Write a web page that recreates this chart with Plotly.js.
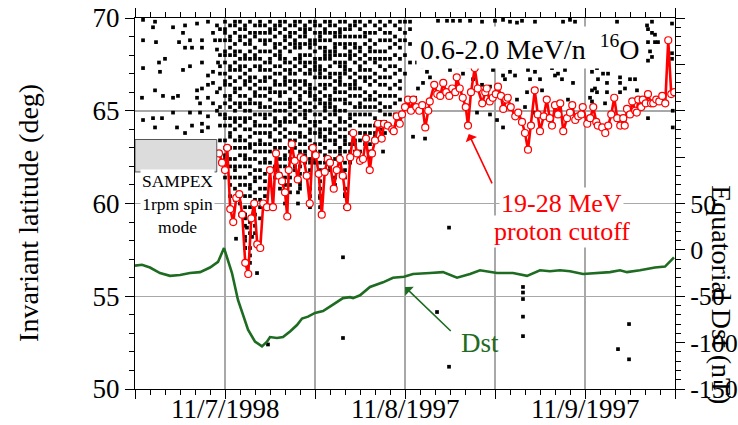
<!DOCTYPE html>
<html><head><meta charset="utf-8">
<script src="https://cdn.plot.ly/plotly-3.0.1.min.js"></script>
<style>html,body{margin:0;padding:0;background:#fff}#chart{width:738px;height:425px}</style>
</head><body><div id="chart"></div>
<script>
// ---- data (hours from 11/6 12:00 UT) ----
const xTickVals = [0, 12, 24, 36, 48, 60, 72];
const xLabelVals = [12, 36, 60];
const xLabelText = ['11/7/1998', '11/8/1997', '11/9/1997'];
const y2TickVals = [-150, -100, -50, 0, 50, 100, 150, 200, 250];
const y2TickText = ['-150', '-100', '-50', '0', '50', '', '', '', ''];

// 19-28 MeV proton cutoff (invariant latitude, deg)
const cutoffHour = [11.2,11.6,12.0,12.3,12.7,13.1,13.5,13.9,14.3,14.7,15.1,15.5,15.9,16.3,16.7,17.1,17.6,18.0,18.4,18.8,19.2,19.6,20.0,20.3,20.5,20.9,21.3,21.7,22.1,22.5,22.9,23.3,23.7,24.1,24.5,24.9,25.3,25.7,26.0,26.5,26.9,27.3,27.7,28.3,28.7,29.1,29.6,30.0,30.4,30.8,31.3,31.6,32.0,32.4,32.9,33.2,33.7,34.3,34.5,34.9,35.3,35.6,36.0,36.4,36.8,37.1,37.5,37.9,38.3,38.7,39.1,39.3,39.9,40.3,40.7,41.1,41.5,41.9,42.3,42.7,42.9,43.3,43.7,44.1,44.4,44.8,45.3,45.7,46.3,46.7,46.9,47.3,47.7,48.1,48.4,48.8,49.1,49.5,49.7,50.1,50.7,51.1,51.6,52.0,52.4,52.8,53.3,53.7,54.0,54.5,54.9,55.3,55.6,56.0,56.4,56.7,57.1,57.6,58.0,58.3,58.7,59.1,59.5,59.7,60.3,60.7,61.1,61.5,61.7,62.3,62.7,63.1,63.5,63.9,64.3,64.7,65.1,65.3,65.6,66.0,66.3,66.7,66.9,67.1,67.5,67.7,68.1,68.4,68.8,69.1,69.5,69.9,70.3,70.7,71.1,71.5,71.9];
const cutoffLat = [62.7,62.2,61.8,63.0,59.7,59.0,60.3,60.5,59.4,56.8,56.2,59.2,60.0,57.8,57.6,60.0,59.8,61.8,59.8,62.7,61.5,61.2,60.6,59.3,61.8,63.2,62.3,61.3,62.5,62.4,61.5,60.0,63.0,62.6,61.6,59.4,61.7,62.4,62.2,60.8,61.8,62.4,61.5,59.8,62.5,63.8,62.7,62.3,62.4,63.5,61.8,62.7,63.4,64.3,63.5,64.3,64.2,64.0,63.9,64.7,64.3,64.8,65.2,65.6,65.0,65.6,65.2,65.0,65.3,64.1,65.0,65.5,66.4,65.9,65.8,66.5,66.0,65.8,66.2,66.0,66.8,66.2,65.7,65.2,64.2,66.0,67.3,66.2,65.4,66.0,66.2,65.5,65.7,65.9,66.3,65.8,65.1,65.6,65.7,65.2,64.7,64.9,64.4,63.8,62.9,64.2,66.1,64.8,63.9,64.7,65.6,64.6,64.2,65.3,64.8,65.4,63.9,64.6,64.9,65.3,64.5,64.7,64.8,65.2,64.3,64.6,65.2,64.4,64.2,64.1,63.8,64.2,64.8,65.7,64.6,64.2,64.6,64.2,65.1,64.8,65.5,65.0,64.9,65.6,65.2,65.6,65.4,65.9,65.4,65.4,65.6,65.5,65.8,65.4,68.8,65.9,66.0];

// Equatorial Dst (nT)
const dstHour = [0,0.93,2,3.33,4.67,6,7.33,8.67,10,11.07,11.87,12.93,13.73,15.07,16,16.93,17.6,18,18.93,19.73,20.67,21.6,22.27,23.07,24,25.07,26.4,27.73,28.67,29.07,30,31.33,33.07,34.4,35.87,37.07,39.33,41.07,42.93,44.67,46,48.27,50.4,52.27,54,55.33,56.67,58,59.73,61.33,63.33,64.67,65.6,67.33,69.33,70.67,71.07,71.87];
const dstVal = [-17,-16,-19,-25,-28,-27,-25,-24,-19,-13,2,-25,-54,-86,-99,-104,-99,-94,-95,-94,-88,-81,-74,-72,-68,-66,-59,-52,-51,-52,-49,-40,-35,-30,-29,-26,-25,-24,-30,-26,-22,-25,-25,-28,-22,-23,-22,-23,-26,-25,-24,-22,-24,-22,-19,-18,-15,-8];

// 0.6-2.0 MeV/n 16O counts: dense columns, '#' = count in a 0.2-deg bin starting at 69.8 deg
const oxyColumnHour = [11.33,12.0,12.67,13.33,14.0,14.67,15.33,16.0,16.67,17.33,18.0,18.67,19.33,20.0,20.67,21.33,22.0,22.67,23.33,24.0,24.67,25.33,26.0,26.67,27.33,28.0,28.67,29.33,30.0,30.67,31.33,32.0,32.67,33.33,34.0,34.67,35.33,36.0,36.67];
const oxyColumnBins = [
"..#..#...#..#.#...#....#.#..#...#...#.",
"#.##.#..##.#..#.##..#.#..##.#...#.#.##..#.#",
".#..##.#.#..##.#.#..##.#..#.#.##..#..#.#..#.#..#",
"##.#..#.##.#.#..#.##..#.#.##.#..#.#..#.##.#..#..#.",
"#.#.##..#.#.##.#..#.#.##..#.#..##.#.#..#..#.#..#.#..#",
".##.#.#..##.#.#.##..#.#.#.##.#..#.#.##.#..#.#..#..#.##.#..#..#",
"#..#.##.#.#..#.##.#..##.#.#..#.#.##..#.#.#..##.#..#...#..#...#.#",
".#.##..#.##.#..#.#.##.#..#.##.#..#.#.#..#.##..#.#...#..#.#",
"##.#.#..#.#.##..#.#.#.##.#..#.#.##.#..#.#.#..#..#.#..#..",
".#.#.##.#..#.#.##.#.#..#.##.#.#..#.#.##..#.#.#.#",
"#.##.#..#.##.#.#..##.#.#.#..#.##.#.#..#.#..#.",
".##.#.##.#..#.#.##.#..#.#.##.#..#.#.#..##.#.",
"##.#..#.###.#.#..#.##.#.#..##.#.#.#..#.#.##..#",
"#.#.##.#..##.#.###.#..#.#.##.#.#..#.##.#..#.#.#..#",
".#.##.#.#..#.##.#.#..###.#.#..#.##.#.#..#.#.#.#.",
"##.#.###..#.#.#.##.#..#.#.##..#.#.#..#.##",
"#.#.#.##.###.#..#.#.##.#.#..#.##.#.##..#.#.###.",
".####.#..#.##.#.##.#..#.###.#..#.#.##.#..#.",
"#.#..###.#.#.##..####.#.#..#.##.#.#..##.#.#..#.#..#",
"##.#.##.#.####.#..#.##.#.#.##.#..#.#.##.",
".#.###.#..#.####.#.#.##..#.#.###.#.#..#.##.#.#.#..#",
"#.##.#.####..#.#.##.#.###.#..#.##.#.#.#.##.",
"##.#.#..###.#.##.#..####.#.#.##.#..#.#.##",
".#.##.####.#..#.#.##.#.###..#.#.##.#.#..#.#.#.",
"#.###.#..#.##.####.#.#..#.##.#.#..###.#.#.",
"#.#.#.##.#.####..#.#.##.#..#.#.###.#..#.#.#..#.#..#",
".##.#.#.###..#.#.##.#.#..##.#.#..#.#.##.",
"##..#.##.#.#..#.###.#..#.#.#..#.##.#.",
"#.#.#..##.#.##.#..#.#.##.#..#.#.#..#.#.",
".#.##.#..#.#.#.##..#.#.#.#..#.##.#",
"#..#.#.##.#..#.#.#..##.#.#..#.#..#.#.#..",
".#.#..#.#.##..#.#..#.#.#..#.#.##.",
"#.#..#..#.#.#..#.#..#.#.#..#.#.",
".#.#.#..#.#..#.#.#..#..#.#.#..#",
"#..#.#.#..#.#..#..#.#..#.#..#",
".#..#.#..#..#.#..#..#.#..#.",
"#.#..#.#..#..#..#.#..#..",
"#..#.#...#....#..",
"#.#...#....#"
];
// scattered 16O counts
const oxySparseHour = [1.07,2.67,2.4,5.07,6.67,6.4,8.27,9.73,1.07,2.8,5.87,4.0,3.2,1.07,3.33,0.93,2.67,3.73,5.07,5.73,1.07,2.4,3.6,5.07,2.67,5.6,6.67,6.4,7.33,8.93,6.67,7.6,8.93,8.93,7.33,8.27,8.93,8.27,8.67,7.33,8.67,9.73,7.6,8.93,9.73,9.73,9.73,10.4,10.4,10.93,10.4,10.93,10.4,10.93,10.67,10.93,11.07,9.73,8.93,
40.4,41.6,42.4,43.33,44.67,46.27,48.0,49.07,50.0,50.93,51.6,53.33,57.07,58.0,58.67,64.27,68.27,68.93,71.6,
37.6,38.27,38.93,39.33,38.4,37.73,37.33,38.0,40.93,42.0,42.93,43.73,44.4,45.07,46.27,47.33,47.73,49.07,49.07,49.33,50.0,50.0,50.67,45.07,45.6,47.33,48.27,49.07,50.93,52.27,52.4,52.67,53.33,53.73,54.0,54.27,55.6,56.0,56.4,56.93,57.33,58.0,58.4,58.67,60.4,60.93,61.6,61.73,62.4,63.07,63.07,64.27,64.67,64.67,65.33,66.0,66.67,66.93,60.93,61.33,61.6,62.93,62.93,62.67,60.93,60.67,64.67,57.73,68.4,53.07,52.27,52.0,68.4,68.93,69.33,68.4,69.33,69.73,68.67,68.93,71.6,71.6,68.4,71.7,71.7,
37.07,38.67,33.07,41.87,27.73,17.73,27.73,40.27,41.87,51.73,51.73,51.73,51.73,51.73,64.4,65.87,65.87,
14.67,14.93,14.67,14.67,15.33,16.27,13.47,15.6,21.73,21.73,24.67,24.8,28.0,20.27];
const oxySparseLat = [69.9,69.8,69.5,69.5,69.6,69.2,69.7,69.8,68.8,68.7,68.7,67.8,67.6,67.3,67.1,65.7,66.1,65.8,65.7,65.8,64.5,64.6,64.6,64.9,64.1,64.1,63.8,67.2,67.4,67.6,68.4,68.4,68.4,68.8,68.8,66.1,66.2,65.7,65.4,64.9,64.9,64.7,64.2,64.3,65.7,66.4,66.9,67.1,66.5,66.0,65.4,65.0,69.2,69.6,68.8,68.3,67.6,64.1,63.9,
69.85,69.85,69.85,69.85,69.85,69.8,69.85,69.9,69.8,69.75,69.85,69.8,69.8,69.9,69.8,69.8,69.6,69.8,69.7,
67.6,67.4,67.1,66.8,66.5,66.2,65.7,65.2,67.5,67.2,67.4,67.0,67.4,66.7,66.4,66.3,67.2,67.4,66.9,66.7,67.4,67.1,66.9,67.5,64.9,64.8,64.5,64.1,65.6,67.5,67.2,66.7,67.1,67.5,66.7,66.1,67.3,66.9,67.0,66.7,67.2,67.5,66.5,67.5,67.5,67.1,67.3,66.7,67.0,67.0,67.5,67.5,66.8,66.5,66.2,66.7,66.7,66.1,66.1,66.2,66.0,66.5,66.0,65.4,65.5,65.7,66.0,65.6,64.6,64.9,66.0,65.2,69.4,69.2,69.1,68.7,68.7,68.7,68.2,67.9,68.1,67.8,67.7,65.0,64.1,
63.6,63.5,62.8,58.7,57.1,52.4,52.75,54.15,51.2,55.5,55.2,54.85,53.9,52.85,52.15,53.5,51.6,
59.4,58.7,58.0,57.6,56.8,56.25,58.1,58.2,60.6,60.0,60.3,59.8,60.5,59.4];

// build the count table
const dotX = [], dotY = [];
oxyColumnBins.forEach((s, c) => {
  for (let i = 0; i < s.length; i++) if (s[i] === '#') { dotX.push(oxyColumnHour[c]); dotY.push(69.8 - 0.2 * i); }
});
oxySparseHour.forEach((h, i) => { dotX.push(h); dotY.push(oxySparseLat[i]); });

const FONT = 'Liberation Serif, Times New Roman, serif';
const GRID = '#a8a8a8';
const DST_GREEN = '#1e6b22';

const traces = [
  {x: dotX, y: dotY, type: 'scatter', mode: 'markers', hoverinfo: 'skip',
   marker: {symbol: 'square', size: 3.7, color: '#000'}},
  {x: cutoffHour, y: cutoffLat, type: 'scatter', mode: 'lines+markers',
   line: {color: '#ff0000', width: 2.6},
   marker: {symbol: 'circle', size: 7, color: '#fff', line: {color: '#ff0000', width: 1.2}}},
  {x: dstHour, y: dstVal, yaxis: 'y2', type: 'scatter', mode: 'lines',
   line: {color: DST_GREEN, width: 2.6}}
];

const annotations = [
  {xref: 'paper', yref: 'paper', x: -0.196, y: 0.475, xanchor: 'center', yanchor: 'middle',
   text: 'Invariant latitude (deg)', textangle: -90,
   showarrow: false, font: {family: FONT, size: 28, color: '#000'}},
  {xref: 'paper', yref: 'paper', x: 1.087, y: 0.253, xanchor: 'center', yanchor: 'middle',
   text: 'Equatorial Dst (nT)', textangle: 90,
   showarrow: false, font: {family: FONT, size: 28, color: '#000'}},
  {xref: 'x', yref: 'y', x: 52.6, y: 68.4, text: '0.6-2.0 MeV/n\u00a0\u00a0<sup>16</sup>O',
   showarrow: false, bgcolor: '#fff', borderpad: 3, font: {family: FONT, size: 28, color: '#000'}},
  {xref: 'x', yref: 'y', x: 56.9, y: 60.0, text: '19-28 MeV',
   showarrow: false, bgcolor: '#fff', borderpad: 1, font: {family: FONT, size: 26, color: '#ff0000'}},
  {xref: 'x', yref: 'y', x: 56.9, y: 58.5, text: 'proton cutoff',
   showarrow: false, bgcolor: '#fff', borderpad: 1, font: {family: FONT, size: 26, color: '#ff0000'}},
  {xref: 'x', yref: 'y', x: 5.7, y: 59.95, text: 'SAMPEX<br>1rpm spin<br>mode',
   showarrow: false, bgcolor: '#fff', borderpad: 1, font: {family: FONT, size: 17.5, color: '#000'}},
  {xref: 'x', yref: 'y', x: 46.0, y: 52.5, text: 'Dst',
   showarrow: false, font: {family: FONT, size: 27, color: DST_GREEN}},
  {xref: 'x', yref: 'y', x: 44.5, y: 63.75, axref: 'x', ayref: 'y', ax: 47.7, ay: 61.0, text: '',
   showarrow: true, arrowhead: 1, arrowsize: 1.3, arrowwidth: 1.6, arrowcolor: '#ff0000'},
  {xref: 'x', yref: 'y', x: 36.0, y: 55.5, axref: 'x', ayref: 'y', ax: 42.3, ay: 53.05, text: '',
   showarrow: true, arrowhead: 1, arrowsize: 1.3, arrowwidth: 1.6, arrowcolor: DST_GREEN}
];
// date labels under the time axis
xLabelVals.forEach((v, i) => annotations.push({
  xref: 'x', yref: 'paper', x: v, y: 0, xanchor: 'center', yanchor: 'middle', yshift: -20,
  text: xLabelText[i], showarrow: false, font: {family: FONT, size: 27, color: '#000'}
}));

const layout = {
  width: 738, height: 425,
  margin: {l: 135, r: 63, t: 18, b: 36},
  paper_bgcolor: '#fff', plot_bgcolor: '#fff',
  showlegend: false,
  font: {family: FONT, size: 27, color: '#000'},
  xaxis: {range: [0, 72], tickmode: 'array', tickvals: xTickVals, showticklabels: false,
    ticks: 'outside', ticklen: 9, tickwidth: 1, tickcolor: '#000',
    showline: true, linecolor: '#000', linewidth: 1, mirror: 'ticks',
    showgrid: true, gridcolor: GRID, gridwidth: 1.5, zeroline: false,
    minor: {tickmode: 'linear', tick0: 0, dtick: 2, ticks: 'outside', ticklen: 5, tickcolor: '#000', showgrid: false}},
  yaxis: {range: [50, 70], tickmode: 'linear', tick0: 50, dtick: 5,
    ticks: 'outside', ticklen: 9, tickcolor: '#000',
    showline: true, linecolor: '#000', linewidth: 1,
    showgrid: true, gridcolor: GRID, gridwidth: 1.5, zeroline: false,
    minor: {tickmode: 'linear', tick0: 50, dtick: 1, ticks: 'outside', ticklen: 5, tickcolor: '#000', showgrid: false},
    tickfont: {family: FONT, size: 27, color: '#000'}},
  yaxis2: {overlaying: 'y', side: 'right', range: [-150, 250],
    tickmode: 'array', tickvals: y2TickVals, ticktext: y2TickText,
    ticks: 'outside', ticklen: 9, tickcolor: '#000',
    showline: true, linecolor: '#000', linewidth: 1,
    showgrid: false, zeroline: false,
    minor: {tickmode: 'linear', tick0: -150, dtick: 10, ticks: 'outside', ticklen: 5, tickcolor: '#000', showgrid: false},
    tickfont: {family: FONT, size: 26, color: '#000'}},
  shapes: [
    {type: 'rect', xref: 'x', yref: 'y', x0: 0, x1: 10.9, y0: 61.7, y1: 63.45,
     fillcolor: '#dcdcdc', line: {color: '#555', width: 1}, layer: 'above'}
  ],
  annotations: annotations
};

Plotly.newPlot('chart', traces, layout, {staticPlot: true, displayModeBar: false});
</script>
</body></html>
